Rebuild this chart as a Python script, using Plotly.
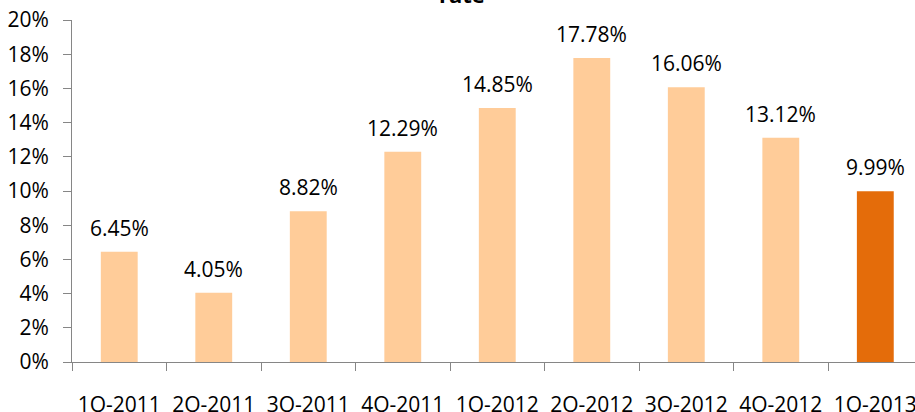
import plotly.graph_objects as go

# Quarterly rate values (percent)
quarters = ["1Q-2011", "2Q-2011", "3Q-2011", "4Q-2011", "1Q-2012",
            "2Q-2012", "3Q-2012", "4Q-2012", "1Q-2013"]
rates = [6.45, 4.05, 8.82, 12.29, 14.85, 17.78, 16.06, 13.12, 9.99]

light = "#FFCC99"
dark = "#E46C0A"
colors = [light] * (len(quarters) - 1) + [dark]

font_family = "Open Sans, Lato, DejaVu Sans, sans-serif"

fig = go.Figure(
    go.Bar(
        x=quarters,
        y=rates,
        marker=dict(color=colors, line=dict(width=0)),
        width=0.39,
        hoverinfo="x+y",
    )
)

# Value labels above each bar
for q, r in zip(quarters, rates):
    fig.add_annotation(
        x=q, y=r, xref="x", yref="y",
        text=f"{r:.2f}%",
        showarrow=False,
        yanchor="middle",
        yshift=24,
        font=dict(size=21, color="#000000", family=font_family),
    )

# Chart title
fig.add_annotation(
    x=0.463, y=1, xref="paper", yref="paper",
    text="<b>rate</b>",
    showarrow=False,
    xanchor="center", yanchor="bottom",
    yshift=9,
    font=dict(size=22, color="#000000", family=font_family),
)

axis_gray = "#868686"

fig.update_layout(
    width=915,
    height=412,
    margin=dict(l=72, r=0, t=20, b=50, autoexpand=False),
    paper_bgcolor="white",
    plot_bgcolor="white",
    showlegend=False,
    font=dict(family=font_family, size=21, color="#000000"),
    xaxis=dict(
        type="category",
        range=[-0.5, 8.42],
        automargin=False,
        showline=True,
        linecolor=axis_gray,
        linewidth=1,
        ticks="outside",
        tickson="boundaries",
        ticklen=8,
        tickcolor=axis_gray,
        showgrid=False,
        zeroline=False,
        ticklabelstandoff=24,
        tickfont=dict(size=21, family=font_family),
    ),
    yaxis=dict(
        range=[0, 20],
        dtick=2,
        automargin=False,
        ticksuffix="%",
        showline=True,
        linecolor=axis_gray,
        linewidth=1,
        ticks="outside",
        ticklen=8,
        tickcolor=axis_gray,
        showgrid=False,
        zeroline=False,
        ticklabelstandoff=10,
        tickfont=dict(size=21, family=font_family),
    ),
)

fig.write_html("out.html")
